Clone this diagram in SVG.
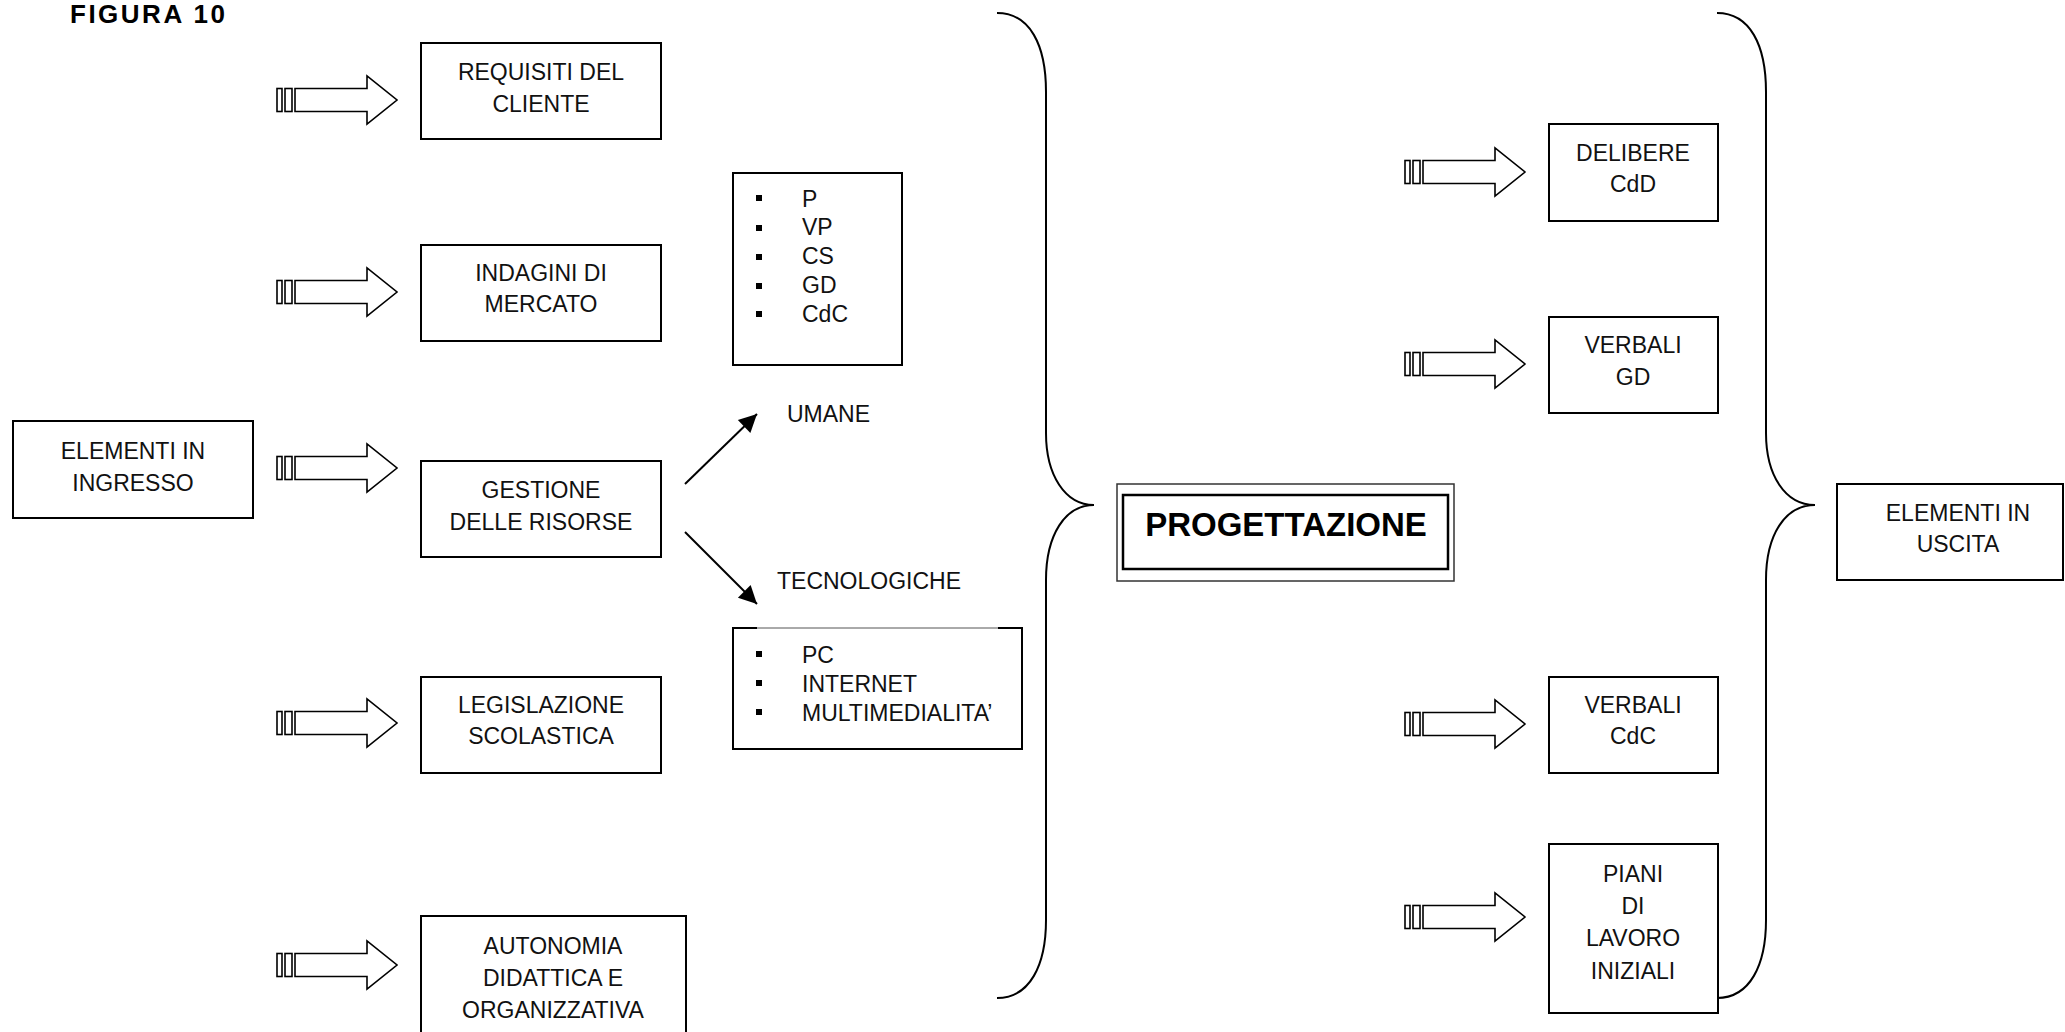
<svg xmlns="http://www.w3.org/2000/svg" xmlns:xlink="http://www.w3.org/1999/xlink" width="2065" height="1032" viewBox="0 0 2065 1032">
<style>
.box{fill:#fff;stroke:#000;stroke-width:2}
.t{font-family:"Liberation Sans",Arial,sans-serif;font-size:23px;fill:#111;text-anchor:middle}
.l{font-family:"Liberation Sans",Arial,sans-serif;font-size:23px;fill:#111}
.brace{fill:none;stroke:#000;stroke-width:2}
.line{stroke:#000;stroke-width:2;fill:none}
.bul{fill:#000}
</style>
<defs>
<g id="sarrow" fill="#fff" stroke="#000" stroke-width="1.6">
<rect x="0" y="-11.5" width="5" height="23"/>
<rect x="8" y="-11.5" width="7" height="23"/>
<polygon points="18,-11.5 90,-11.5 90,-24 120,0 90,24 90,11.5 18,11.5"/>
</g>
<marker id="ah" viewBox="0 0 10 10" refX="10" refY="5" markerWidth="11" markerHeight="9" markerUnits="strokeWidth" orient="auto">
<path d="M0,0 L10,5 L0,10 Z" fill="#000"/>
</marker>
</defs>
<rect width="2065" height="1032" fill="#fff"/>
<text x="70" y="23" font-family="'Liberation Sans',Arial,sans-serif" font-weight="bold" font-size="26" letter-spacing="2.5" fill="#000">FIGURA 10</text>

<g id="connectors">
<use href="#sarrow" x="277" y="100"/>
<use href="#sarrow" x="277" y="292"/>
<use href="#sarrow" x="277" y="468"/>
<use href="#sarrow" x="277" y="723"/>
<use href="#sarrow" x="277" y="965"/>
<use href="#sarrow" x="1405" y="172"/>
<use href="#sarrow" x="1405" y="364"/>
<use href="#sarrow" x="1405" y="724"/>
<use href="#sarrow" x="1405" y="917"/>
<line class="line" x1="685" y1="484" x2="757" y2="414" marker-end="url(#ah)"/>
<line class="line" x1="685" y1="532" x2="757" y2="604" marker-end="url(#ah)"/>
<path class="brace" d="M997,13 C1030,13 1046,45 1046,92 L1046,433 C1046,475 1065,505 1094,505 C1065,505 1046,535 1046,580 L1046,920 C1046,965 1030,998 997,998"/>
<path class="brace" d="M1717,13 C1750,13 1766,45 1766,92 L1766,433 C1766,475 1785,505 1815,505 C1785,505 1766,535 1766,580 L1766,920 C1766,965 1750,998 1717,998"/>
</g>

<g id="elementi-ingresso">
<rect class="box" x="13" y="421" width="240" height="97"/>
<text class="t" x="133" y="459">ELEMENTI IN</text>
<text class="t" x="133" y="491">INGRESSO</text>
</g>
<g id="requisiti">
<rect class="box" x="421" y="43" width="240" height="96"/>
<text class="t" x="541" y="80">REQUISITI DEL</text>
<text class="t" x="541" y="112">CLIENTE</text>
</g>
<g id="indagini">
<rect class="box" x="421" y="245" width="240" height="96"/>
<text class="t" x="541" y="281">INDAGINI DI</text>
<text class="t" x="541" y="312">MERCATO</text>
</g>
<g id="gestione">
<rect class="box" x="421" y="461" width="240" height="96"/>
<text class="t" x="541" y="498">GESTIONE</text>
<text class="t" x="541" y="530">DELLE RISORSE</text>
</g>
<g id="legislazione">
<rect class="box" x="421" y="677" width="240" height="96"/>
<text class="t" x="541" y="713">LEGISLAZIONE</text>
<text class="t" x="541" y="744">SCOLASTICA</text>
</g>
<g id="autonomia">
<rect class="box" x="421" y="916" width="265" height="130"/>
<text class="t" x="553" y="954">AUTONOMIA</text>
<text class="t" x="553" y="986">DIDATTICA E</text>
<text class="t" x="553" y="1018">ORGANIZZATIVA</text>
</g>

<g id="umane-list">
<rect class="box" x="733" y="173" width="169" height="192"/>
<rect class="bul" x="756" y="195" width="6" height="6"/>
<rect class="bul" x="756" y="225" width="6" height="6"/>
<rect class="bul" x="756" y="254" width="6" height="6"/>
<rect class="bul" x="756" y="283" width="6" height="6"/>
<rect class="bul" x="756" y="311" width="6" height="6"/>
<text class="l" x="802" y="207">P</text>
<text class="l" x="802" y="235">VP</text>
<text class="l" x="802" y="264">CS</text>
<text class="l" x="802" y="293">GD</text>
<text class="l" x="802" y="322">CdC</text>
</g>
<g id="umane-label">
<text class="l" x="787" y="422">UMANE</text>
</g>
<g id="tecnologiche-label">
<text class="l" x="777" y="589">TECNOLOGICHE</text>
</g>
<g id="tecnologiche-list">
<rect x="733" y="628" width="289" height="121" fill="#fff" stroke="none"/>
<path d="M757,628 L733,628 L733,749 L1022,749 L1022,628 L998,628" fill="none" stroke="#000" stroke-width="2"/>
<line x1="757" y1="628" x2="998" y2="628" stroke="#555" stroke-width="1"/>
<rect class="bul" x="756" y="651" width="6" height="6"/>
<rect class="bul" x="756" y="680" width="6" height="6"/>
<rect class="bul" x="756" y="709" width="6" height="6"/>
<text class="l" x="802" y="663">PC</text>
<text class="l" x="802" y="692">INTERNET</text>
<text class="l" x="802" y="721">MULTIMEDIALITA’</text>
</g>

<g id="progettazione">
<rect x="1117" y="484" width="337" height="97" fill="#fff" stroke="#333" stroke-width="1.5"/>
<rect x="1123" y="495" width="325" height="74" fill="none" stroke="#000" stroke-width="2.5"/>
<text x="1286" y="536" font-family="'Liberation Sans',Arial,sans-serif" font-weight="bold" font-size="33" text-anchor="middle" fill="#000">PROGETTAZIONE</text>
</g>

<g id="delibere">
<rect class="box" x="1549" y="124" width="169" height="97"/>
<text class="t" x="1633" y="161">DELIBERE</text>
<text class="t" x="1633" y="192">CdD</text>
</g>
<g id="verbali-gd">
<rect class="box" x="1549" y="317" width="169" height="96"/>
<text class="t" x="1633" y="353">VERBALI</text>
<text class="t" x="1633" y="385">GD</text>
</g>
<g id="verbali-cdc">
<rect class="box" x="1549" y="677" width="169" height="96"/>
<text class="t" x="1633" y="713">VERBALI</text>
<text class="t" x="1633" y="744">CdC</text>
</g>
<g id="piani">
<rect class="box" x="1549" y="844" width="169" height="169"/>
<text class="t" x="1633" y="882">PIANI</text>
<text class="t" x="1633" y="914">DI</text>
<text class="t" x="1633" y="946">LAVORO</text>
<text class="t" x="1633" y="979">INIZIALI</text>
</g>

<g id="elementi-uscita">
<rect class="box" x="1837" y="484" width="226" height="96"/>
<text class="t" x="1958" y="521">ELEMENTI IN</text>
<text class="t" x="1958" y="552">USCITA</text>
</g>
</svg>
